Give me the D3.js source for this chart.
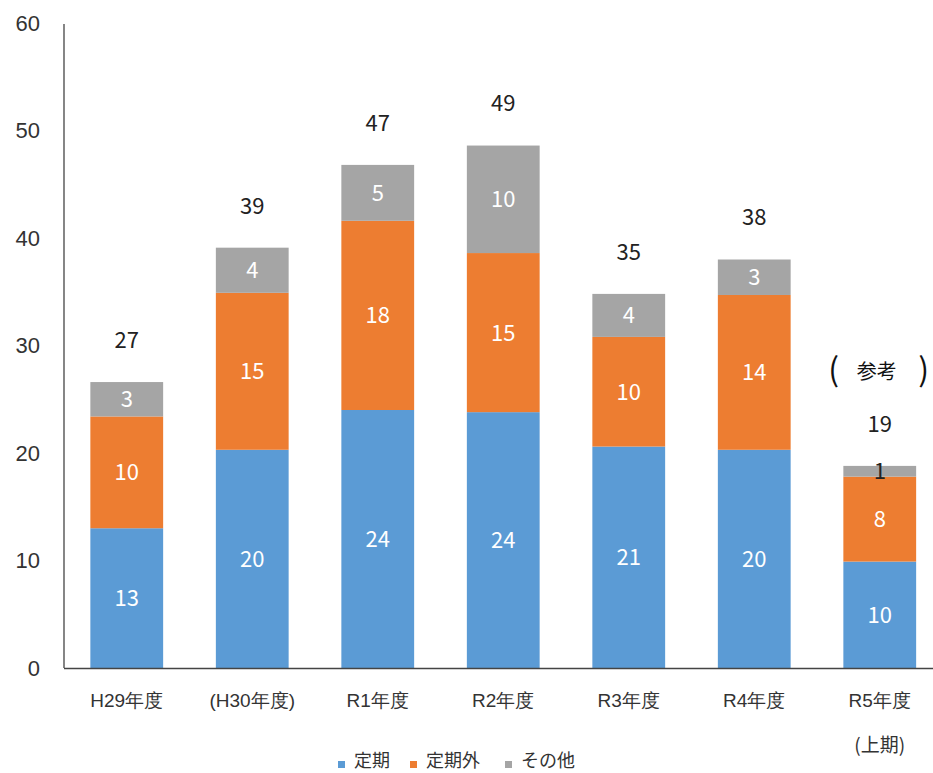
<!DOCTYPE html>
<html><head><meta charset="utf-8">
<script src="https://cdn.jsdelivr.net/npm/d3@7"></script>
<style>
body{margin:0;background:#fff;}
svg{display:block;font-family:"Noto Sans CJK JP","Noto Sans",sans-serif;}
</style></head>
<body><svg id="c" width="933" height="773"></svg>
<script>
const categories = ["H29年度","(H30年度)","R1年度","R2年度","R3年度","R4年度","R5年度"];
const subLabels = ["","","","","","","(上期)"];
const seriesNames = ["定期","定期外","その他"];
const teiki    = [13.0, 20.3, 24.0, 23.8, 20.6, 20.3, 9.9];
const teikigai = [10.4, 14.6, 17.6, 14.8, 10.2, 14.4, 7.9];
const sonota   = [3.2, 4.2, 5.2, 10.0, 4.0, 3.3, 1.0];
const yTicks = [0,10,20,30,40,50,60];
const colors = ["#5B9BD5","#ED7D31","#A5A5A5"];

const svg = d3.select("#c");
const x = d3.scaleBand().domain(categories).range([64, 942.5]).paddingInner(0.42).paddingOuter(0.21);
const y = d3.scaleLinear().domain([0,60]).range([668, 23]);

const rows = categories.map((c,i)=>({cat:c, "定期":teiki[i], "定期外":teikigai[i], "その他":sonota[i]}));
const stacked = d3.stack().keys(seriesNames)(rows);

// bars
stacked.forEach((layer,li)=>{
  const g = svg.append("g");
  g.selectAll("rect").data(layer).join("rect")
    .attr("x", d=>x(d.data.cat))
    .attr("width", x.bandwidth())
    .attr("y", d=>y(d[1]))
    .attr("height", d=>y(d[0])-y(d[1]))
    .attr("fill", colors[li]);
  g.selectAll("text").data(layer).join("text")
    .attr("x", d=>x(d.data.cat)+x.bandwidth()/2)
    .attr("y", d=>(y(d[0])+y(d[1]))/2)
    .attr("dy","0.36em")
    .attr("text-anchor","middle")
    .attr("font-size",22)
    .attr("fill", d=> (d[1]-d[0])<2 ? "#222" : "#fff")
    .text(d=>Math.round(d[1]-d[0]));
});

// totals
const topLayer = stacked[stacked.length-1];
svg.append("g").selectAll("text").data(topLayer).join("text")
  .attr("x", d=>x(d.data.cat)+x.bandwidth()/2)
  .attr("y", d=>y(d[1])-42)
  .attr("dy","0.36em")
  .attr("text-anchor","middle")
  .attr("font-size",22)
  .attr("fill","#222")
  .text(d=>Math.round(d[1]));

// axes
const yAxis = d3.axisLeft(y).tickValues(yTicks).tickSize(0).tickPadding(24);
const ga = svg.append("g").attr("transform","translate(64,0)").call(yAxis);
ga.select(".domain").attr("stroke","#444").attr("stroke-width",1.3).attr("d","M0,24V668");
ga.selectAll("text").attr("font-size",22).attr("fill","#333").attr("font-family","inherit");

svg.append("line").attr("x1",64).attr("x2",933).attr("y1",668.5).attr("y2",668.5)
  .attr("stroke","#444").attr("stroke-width",1.3);

const xAxis = d3.axisBottom(x).tickSize(0).tickPadding(26);
const gx = svg.append("g").attr("transform","translate(0,668)").call(xAxis);
gx.select(".domain").remove();
gx.selectAll("text").attr("font-size",19).attr("fill","#333").attr("font-family","inherit");

svg.append("g").selectAll("text").data(categories.map((c,i)=>({c, s:subLabels[i]})).filter(d=>d.s)).join("text")
  .attr("x", d=>x(d.c)+x.bandwidth()/2)
  .attr("y", 745).attr("dy","0.36em")
  .attr("text-anchor","middle").attr("font-size",19).attr("fill","#333")
  .text(d=>d.s);

// reference note
const r5 = categories[6];
const cx = x(r5)+x.bandwidth()/2;
svg.append("text").attr("x",cx-46).attr("y",369).attr("dy","0.36em").attr("text-anchor","middle")
  .attr("font-size",32).attr("fill","#111").text("(");
svg.append("text").attr("x",cx-3).attr("y",372).attr("dy","0.36em").attr("text-anchor","middle")
  .attr("font-size",20).attr("fill","#111").text("参考");
svg.append("text").attr("x",cx+44).attr("y",369).attr("dy","0.36em").attr("text-anchor","middle")
  .attr("font-size",32).attr("fill","#111").text(")");

// legend
const legX = [338, 410, 505];
const lg = svg.append("g");
seriesNames.forEach((n,i)=>{
  lg.append("rect").attr("x",legX[i]).attr("y",761).attr("width",7).attr("height",7).attr("fill",colors[i]);
  lg.append("text").attr("x",legX[i]+16).attr("y",761).attr("dy","0.36em")
    .attr("font-size",18).attr("fill","#333").text(n);
});
</script></body></html>
